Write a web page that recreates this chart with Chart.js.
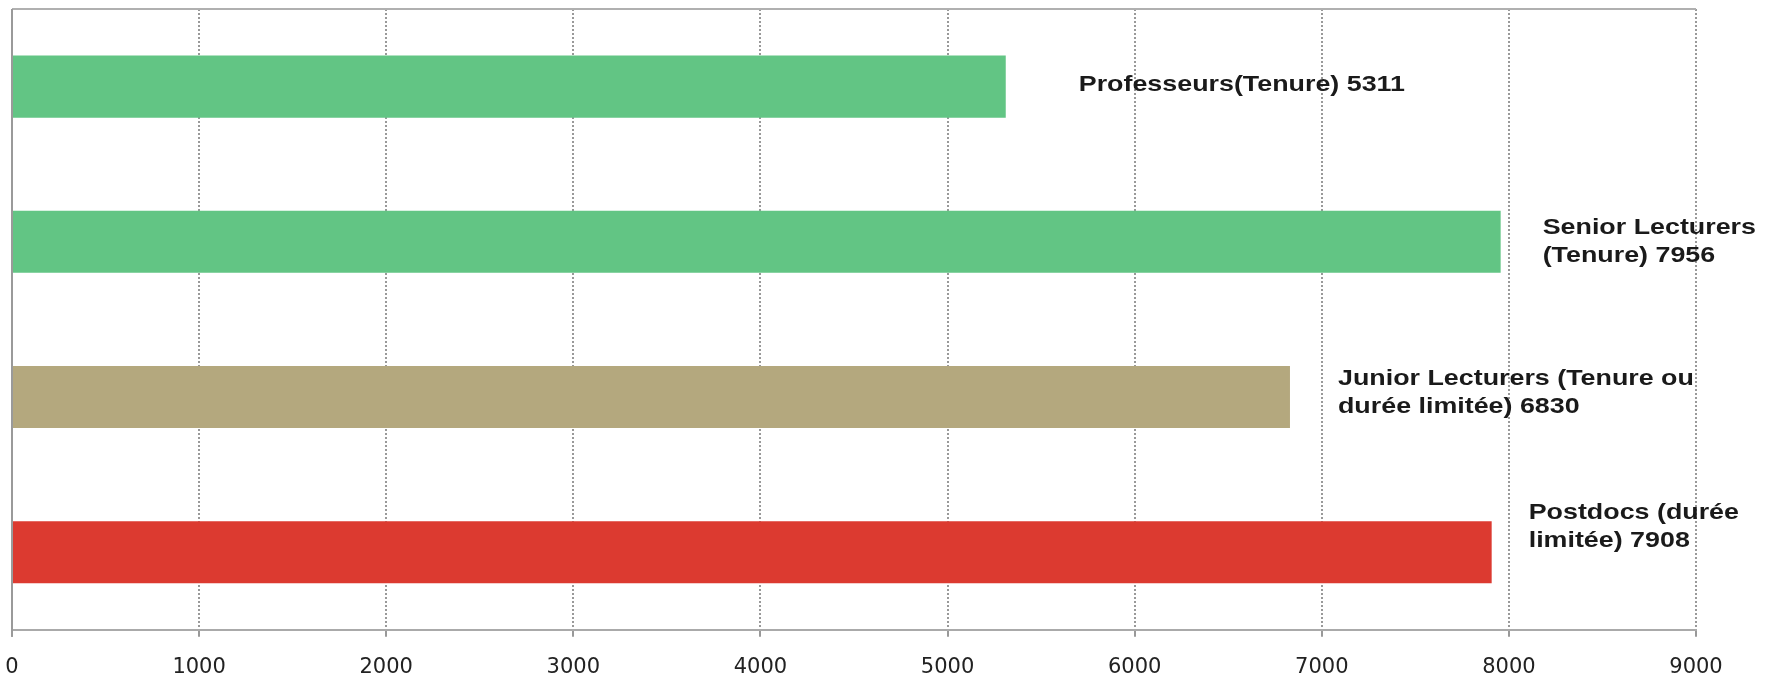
<!DOCTYPE html>
<html>
<head>
<meta charset="utf-8">
<script src="https://cdn.jsdelivr.net/npm/chart.js@4"></script>
<style>
  html, body { margin: 0; padding: 0; background: #fff; }
  #wrap { width: 1769px; height: 680px; }
</style>
</head>
<body>
<div id="wrap"><canvas id="myChart" width="1769" height="680"></canvas></div>
<script>
// staff categories, one text line per array entry
const categories = [
    ["Professeurs(Tenure)"],
    ["Senior Lecturers", "(Tenure)"],
    ["Junior Lecturers (Tenure ou", "durée limitée)"],
    ["Postdocs (durée", "limitée)"]
];
const headcount = [5311, 7956, 6830, 7908];
const barColors = ["#62c584", "#62c584", "#b4a87e", "#dc3a30"];
const xTicks = [0, 1000, 2000, 3000, 4000, 5000, 6000, 7000, 8000, 9000];

// where each label sits, relative to the end / middle of its bar
const labelOffsetX = [73, 42, 48, 37];
const labelOffsetY = [4, -8, -12, -33];
const textStretch = 1.22;

const barLabels = {
    id: "barLabels",
    beforeDatasetsDraw(chart) {
        // top and left frame lines
        const ctx = chart.ctx;
        const a = chart.chartArea;
        ctx.save();
        ctx.lineWidth = 2;
        ctx.strokeStyle = "#b0b0b0";
        ctx.beginPath();
        ctx.moveTo(a.left, a.top);
        ctx.lineTo(a.right, a.top);
        ctx.stroke();
        ctx.strokeStyle = "#9a9a9a";
        ctx.beginPath();
        ctx.moveTo(a.left, a.top);
        ctx.lineTo(a.left, a.bottom + 7);
        ctx.stroke();
        ctx.restore();
    },
    afterDraw(chart) {
        const ctx = chart.ctx;
        const bars = chart.getDatasetMeta(0).data;
        ctx.save();
        ctx.font = "bold 22px 'Liberation Sans', Arial, sans-serif";
        ctx.fillStyle = "#1a1a1a";
        ctx.textAlign = "left";
        ctx.textBaseline = "alphabetic";
        for (let i = 0; i < bars.length; i++) {
            const lines = categories[i].slice();
            lines[lines.length - 1] += " " + headcount[i];
            for (let k = 0; k < lines.length; k++) {
                const x = bars[i].x + labelOffsetX[i];
                const y = bars[i].y + labelOffsetY[i] + k * 28;
                ctx.save();
                ctx.translate(x, y);
                ctx.scale(textStretch, 1);
                ctx.fillText(lines[k], 0, 0);
                ctx.restore();
            }
        }
        ctx.restore();
    }
};

const ctx = document.getElementById("myChart").getContext("2d");
const myChart = new Chart(ctx, {
    type: "bar",
    data: {
        labels: categories.map(c => c.join(" ")),
        datasets: [{
            data: headcount,
            backgroundColor: barColors,
            borderWidth: 0,
            barPercentage: 0.4,
            categoryPercentage: 1
        }]
    },
    options: {
        indexAxis: "y",
        responsive: false,
        animation: false,
        layout: { padding: { left: 12, right: 73, top: 9, bottom: -18 } },
        plugins: {
            legend: { display: false },
            tooltip: { enabled: false }
        },
        scales: {
            x: {
                min: 0,
                max: 9000,
                afterBuildTicks: axis => { axis.ticks = xTicks.map(v => ({ value: v })); },
                // the "0" label may hang over the left edge
                afterFit: axis => { axis.paddingLeft = 0; },
                grid: {
                    color: "#999999",
                    lineWidth: 2,
                    tickLength: 7,
                    tickColor: "#999999"
                },
                // dash here applies to the gridlines, the axis line stays solid
                border: { display: true, color: "#aaaaaa", width: 2, dash: [2, 2] },
                ticks: {
                    color: "#222",
                    padding: 18,
                    maxRotation: 0,
                    font: { family: "'DejaVu Sans'", size: 21 },
                    callback: v => String(v)
                }
            },
            y: {
                display: false
            }
        }
    },
    plugins: [barLabels]
});
</script>
</body>
</html>
